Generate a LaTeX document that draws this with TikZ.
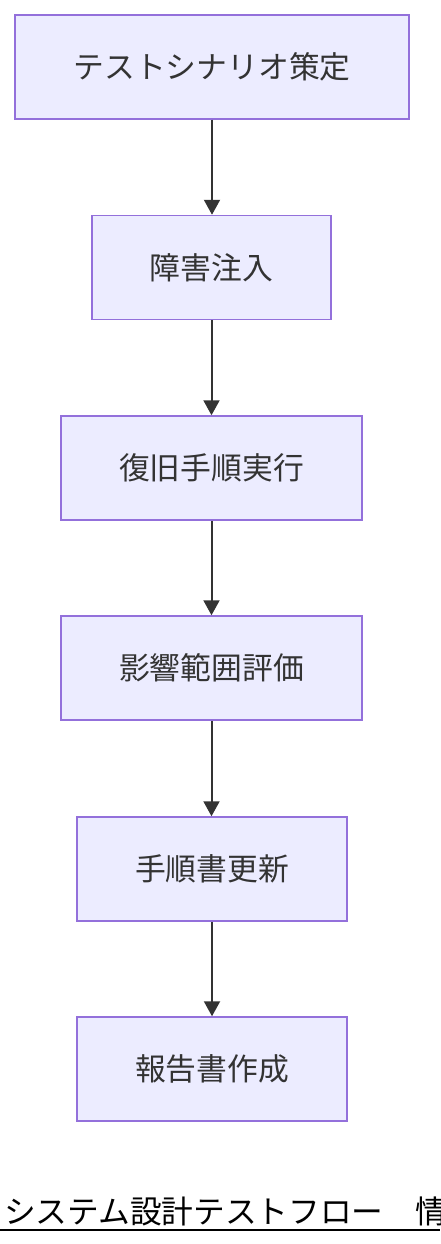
\documentclass[tikz,border=0pt]{standalone}
\usepackage{fontspec}
\newfontfamily\jp{Noto Sans CJK JP}
\usetikzlibrary{arrows.meta}
\definecolor{boxfill}{HTML}{ECECFF}
\definecolor{boxdraw}{HTML}{9370DB}
\definecolor{ink}{HTML}{333333}
\tikzset{
  stepbox/.style={draw=boxdraw, fill=boxfill, line width=1.5pt, inner sep=0pt,
    minimum height=104pt, font=\jp\fontsize{30.8}{36}\selectfont, text=ink},
  flow/.style={draw=ink, line width=2pt, -{Triangle[width=16pt,length=15pt]}}
}
\begin{document}
\begin{tikzpicture}[x=1pt,y=-1pt]
\useasboundingbox (0,0) rectangle (440,1244);
\node[stepbox, minimum width=394pt] (a) at (212,67) {テストシナリオ策定};
\node[stepbox, minimum width=239pt] (b) at (211.5,267.5) {障害注入};
\node[stepbox, minimum width=301pt] (c) at (211.5,468) {復旧手順実行};
\node[stepbox, minimum width=301pt] (d) at (211.5,668) {影響範囲評価};
\node[stepbox, minimum width=270pt] (e) at (212,869) {手順書更新};
\node[stepbox, minimum width=270pt] (f) at (212,1069) {報告書作成};
\draw[flow] (a.south) -- (a.south |- b.north);
\draw[flow] (b.south) -- (b.south |- c.north);
\draw[flow] (c.south) -- (c.south |- d.north);
\draw[flow] (d.south) -- (d.south |- e.north);
\draw[flow] (e.south) -- (e.south |- f.north);
\node[anchor=base west, inner sep=0pt, font=\jp\fontsize{31.7}{36}\selectfont, text=black] (t) at (4,1223) {システム設計テストフロー　情};
\coordinate (ul) at (0,1230);
\coordinate (ur) at (440,1230);
\draw[line width=2pt, black] (ul) -- (ur);
\end{tikzpicture}
\end{document}
